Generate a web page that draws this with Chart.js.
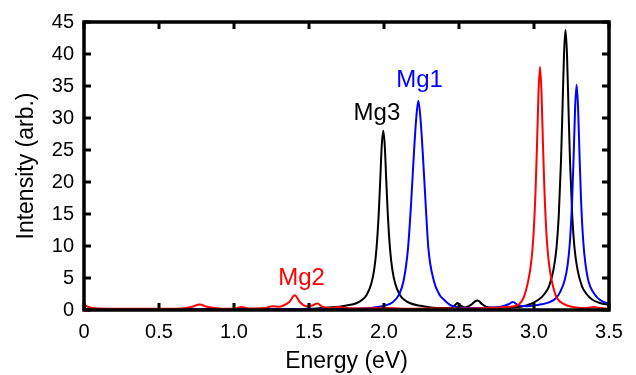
<!DOCTYPE html>
<html lang="en">
<head>
<meta charset="UTF-8" />
<title>Intensity vs Energy</title>
<style>
  body { margin: 0; background: #fff; }
  #wrap { width: 636px; height: 375px; }
</style>
</head>
<body>
<div id="wrap"><canvas id="chart" width="636" height="375"></canvas></div>

<script src="https://cdn.jsdelivr.net/npm/chart.js"></script>
<script>
  // tick values
  const xTicks = [0, 0.5, 1, 1.5, 2, 2.5, 3, 3.5];
  const yTicks = [0, 5, 10, 15, 20, 25, 30, 35, 40, 45];

  // Mg3 (black)
  const mg3E = [0, 0.5, 1.0, 1.5, 1.6, 1.7, 1.75, 1.815, 1.855, 1.885, 1.915, 1.935, 1.95, 1.965, 1.975, 1.985, 1.995,
    2.005, 2.015, 2.025, 2.04, 2.055, 2.075, 2.105, 2.135, 2.175, 2.245, 2.3, 2.38, 2.45, 2.475, 2.49, 2.51, 2.54,
    2.58, 2.605, 2.625, 2.65, 2.68, 2.75, 2.85, 2.95, 3.03, 3.07, 3.1, 3.13, 3.15, 3.165, 3.18, 3.19, 3.2, 3.21,
    3.22, 3.23, 3.24, 3.255, 3.27, 3.29, 3.32, 3.35, 3.39, 3.44, 3.5];
  const mg3I = [0.1, 0.1, 0.1, 0.2, 0.35, 0.5, 0.7, 1.05, 1.6, 2.4, 4.1, 6.4, 9.6, 15.1, 20.3, 25.7, 28,
    25.7, 20.3, 15.1, 9.6, 6.4, 4.1, 2.4, 1.6, 1.05, 0.65, 0.45, 0.3, 0.35, 0.8, 1.1, 0.7, 0.4,
    0.8, 1.3, 1.5, 1.0, 0.5, 0.35, 0.4, 0.7, 1.6, 2.5, 3.7, 6.3, 9.7, 14.7, 23.3, 31.5, 39.9, 43.8,
    39.9, 31.5, 23.3, 14.7, 9.7, 6.3, 3.7, 2.5, 1.6, 1.1, 0.8];

  // Mg2 (red)
  const mg2E = [0, 0.04, 0.1, 0.4, 0.65, 0.72, 0.77, 0.82, 0.9, 1.0, 1.05, 1.1, 1.2, 1.26, 1.3, 1.33, 1.37, 1.405,
    1.44, 1.48, 1.52, 1.555, 1.59, 1.65, 1.7, 1.75, 1.85, 2.0, 2.2, 2.4, 2.6, 2.7, 2.8, 2.86, 2.9, 2.93, 2.96,
    2.98, 2.995, 3.01, 3.02, 3.03, 3.04, 3.05, 3.06, 3.07, 3.085, 3.1, 3.12, 3.15, 3.18, 3.22, 3.28, 3.35, 3.4,
    3.43, 3.5];
  const mg2I = [0.8, 0.4, 0.25, 0.2, 0.25, 0.5, 0.85, 0.5, 0.25, 0.2, 0.45, 0.25, 0.3, 0.6, 0.5, 0.7, 1.3, 2.3,
    1.2, 0.6, 0.7, 1.0, 0.5, 0.3, 0.45, 0.3, 0.25, 0.3, 0.2, 0.25, 0.25, 0.3, 0.45, 0.55, 0.9, 1.9, 4.4,
    7.2, 11.1, 18.4, 25.7, 34, 38, 34, 25.7, 18.4, 11.1, 7.2, 4.4, 2.0, 1.2, 0.7, 0.4, 0.3, 0.45,
    0.35, 0.2];

  // Mg1 (blue)
  const mg1E = [0, 0.5, 1.0, 1.5, 1.8, 1.9, 1.97, 2.06, 2.1, 2.13, 2.16, 2.18, 2.2, 2.215, 2.229, 2.243, 2.258,
    2.278, 2.296, 2.333, 2.37, 2.4, 2.44, 2.5, 2.6, 2.7, 2.78, 2.83, 2.86, 2.89, 2.95, 3.0, 3.05, 3.1, 3.144,
    3.174, 3.204, 3.224, 3.239, 3.254, 3.264, 3.274, 3.284, 3.294, 3.304, 3.314, 3.329, 3.344, 3.364, 3.394,
    3.424, 3.46, 3.5];
  const mg1I = [0.1, 0.1, 0.1, 0.1, 0.2, 0.3, 0.5, 1.25, 2.4, 4.5, 9.6, 16.4, 24.7, 30, 32.7, 30, 24.7,
    16.4, 9.6, 4.5, 2.4, 1.6, 0.8, 0.4, 0.3, 0.35, 0.5, 0.9, 1.25, 0.8, 0.6, 0.7, 0.9, 1.2, 1.8,
    2.8, 4.6, 7.0, 10.5, 17, 23.8, 31.5, 35.2, 31.5, 23.8, 17, 10.5, 7.0, 4.4, 2.8,
    1.9, 1.3, 1.0];

  // peak labels
  const labelText = ["Mg3", "Mg1", "Mg2"];
  const labelE = [1.953, 2.237, 1.45];
  const labelI = [30.8, 35.9, 5.0];
  const labelColor = ["#000000", "#0000ff", "#ff0000"];

  function toPoints(xs, ys) {
    return xs.map((x, i) => ({ x: x, y: ys[i] }));
  }

  // frame, inward ticks and peak labels
  const framePlugin = {
    id: "frame",
    afterDatasetsDraw(chart) {
      const { ctx, chartArea: a, scales: { x, y } } = chart;
      ctx.save();
      ctx.strokeStyle = "#000";
      ctx.lineWidth = 3;
      ctx.beginPath();
      xTicks.forEach(v => {
        const px = x.getPixelForValue(v);
        ctx.moveTo(px, a.bottom); ctx.lineTo(px, a.bottom - 7);
        ctx.moveTo(px, a.top); ctx.lineTo(px, a.top + 7);
      });
      yTicks.forEach(v => {
        const py = y.getPixelForValue(v);
        ctx.moveTo(a.left, py); ctx.lineTo(a.left + 7, py);
        ctx.moveTo(a.right, py); ctx.lineTo(a.right - 7, py);
      });
      ctx.stroke();
      ctx.lineWidth = 3.5;
      ctx.strokeRect(a.left, a.top, a.right - a.left, a.bottom - a.top);

      ctx.font = "24px 'Liberation Sans', Arial, sans-serif";
      ctx.textAlign = "center";
      ctx.textBaseline = "middle";
      labelText.forEach((t, i) => {
        ctx.fillStyle = labelColor[i];
        ctx.fillText(t, x.getPixelForValue(labelE[i]), y.getPixelForValue(labelI[i]));
      });
      ctx.restore();
    }
  };

  const line = (data, color) => ({
    data: data,
    borderColor: color,
    borderWidth: 2,
    pointRadius: 0,
    fill: false,
    cubicInterpolationMode: "monotone"
  });

  Chart.defaults.font.family = "'Liberation Sans', Arial, sans-serif";
  Chart.defaults.color = "#000";

  new Chart(document.getElementById("chart"), {
    type: "line",
    data: {
      datasets: [
        line(toPoints(mg2E, mg2I), "#ff0000"),
        line(toPoints(mg1E, mg1I), "#0000ff"),
        line(toPoints(mg3E, mg3I), "#000000")
      ]
    },
    options: {
      responsive: false,
      animation: false,
      layout: { padding: { top: 12, right: 27, left: 0, bottom: 0 } },
      plugins: { legend: { display: false }, tooltip: { enabled: false } },
      scales: {
        x: {
          type: "linear",
          min: 0, max: 3.5,
          afterBuildTicks: s => { s.ticks = xTicks.map(v => ({ value: v })); },
          afterFit: s => { s.height = 65; },
          grid: { display: false, drawTicks: false },
          border: { display: false },
          ticks: { font: { size: 20 }, padding: 10, maxRotation: 0 },
          title: { display: true, text: "Energy (eV)", font: { size: 23 }, padding: { top: 0, bottom: 0 } }
        },
        y: {
          min: 0, max: 45,
          afterBuildTicks: s => { s.ticks = yTicks.map(v => ({ value: v })); },
          afterFit: s => { s.width = 84; },
          grid: { display: false, drawTicks: false },
          border: { display: false },
          ticks: { font: { size: 20 }, padding: 10 },
          title: { display: true, text: "Intensity (arb.)", font: { size: 23 }, padding: { top: 13, bottom: 0 } }
        }
      }
    },
    plugins: [framePlugin]
  });
</script>
</body>
</html>
